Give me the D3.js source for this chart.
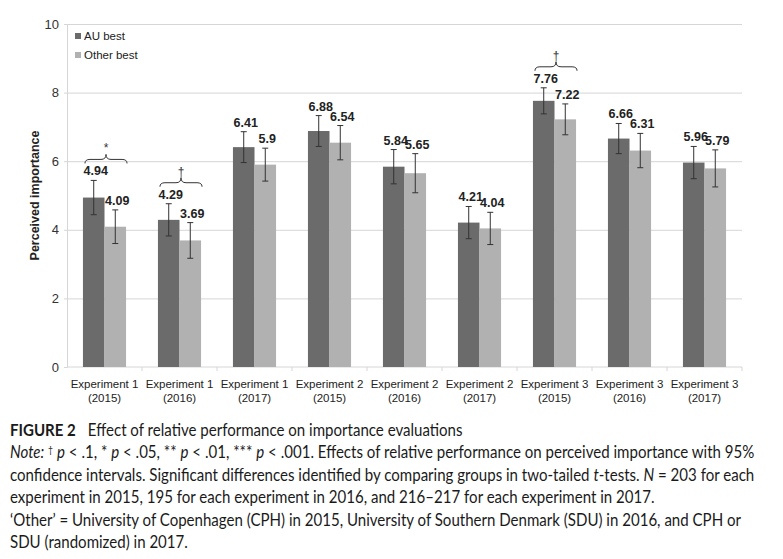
<!DOCTYPE html>
<html>
<head>
<meta charset="utf-8">
<script src="https://cdn.jsdelivr.net/npm/d3@7"></script>
<style>
  body { margin: 0; background: #fff; }
  svg text { font-family: "Liberation Sans", Arial, sans-serif; }
  svg text.cap { font-family: Lato, "Open Sans", sans-serif; }
</style>
</head>
<body>
<div id="chart"></div>
<script>
const categories = ["Experiment 1 (2015)", "Experiment 1 (2016)", "Experiment 1 (2017)",
    "Experiment 2 (2015)", "Experiment 2 (2016)", "Experiment 2 (2017)",
    "Experiment 3 (2015)", "Experiment 3 (2016)", "Experiment 3 (2017)"];
const seriesNames = ["AU best", "Other best"];
const auBest = [4.94, 4.29, 6.41, 6.88, 5.84, 4.21, 7.76, 6.66, 5.96];
const otherBest = [4.09, 3.69, 5.9, 6.54, 5.65, 4.04, 7.22, 6.31, 5.79];
// half width of the 95% CI
const auCI = [0.50, 0.47, 0.45, 0.45, 0.50, 0.47, 0.38, 0.44, 0.47];
const otherCI = [0.49, 0.52, 0.48, 0.50, 0.57, 0.47, 0.45, 0.50, 0.54];
const significance = ["*", "\u2020", "", "", "", "", "\u2020", "", ""];
const yTicks = [0, 2, 4, 6, 8, 10];

const colors = ["#6b6b6b", "#b1b1b1"];

// caption lines: [text, style]
const captionLines = [
    [["FIGURE 2", "b"], ["Effect of relative performance on importance evaluations", "gap"]],
    [["Note:", "i"], [" ", ""], ["\u2020", "sup"], [" ", ""], ["p", "i"], [" < .1, * ", ""], ["p", "i"], [" < .05, ** ", ""],
     ["p", "i"], [" < .01, *** ", ""], ["p", "i"], [" < .001. Effects of relative performance on perceived importance with 95%", ""]],
    [["confidence intervals. Significant differences identified by comparing groups in two-tailed ", ""], ["t", "i"],
     ["-tests. ", ""], ["N", "i"], [" = 203 for each", ""]],
    [["experiment in 2015, 195 for each experiment in 2016, and 216\u2013217 for each experiment in 2017.", ""]],
    [["\u2018Other\u2019 = University of Copenhagen (CPH) in 2015, University of Southern Denmark (SDU) in 2016, and CPH or", ""]],
    [["SDU (randomized) in 2017.", ""]]
];

const width = 783, height = 559;
const margin = { top: 24, right: 41, left: 67, bottom: 192 };
const innerW = width - margin.left - margin.right;
const innerH = height - margin.top - margin.bottom;

const svg = d3.select("#chart").append("svg")
    .attr("width", width)
    .attr("height", height);

const g = svg.append("g")
    .attr("transform", "translate(" + margin.left + "," + margin.top + ")");

const x0 = d3.scaleBand().domain(categories).range([0, innerW]).padding(0);
const x1 = d3.scaleBand().domain(seriesNames).range([0, x0.bandwidth()])
    .paddingInner(0).paddingOuter(0.74);
const y = d3.scaleLinear().domain([0, 10]).range([innerH, 0]);

// gridlines
g.append("g")
    .call(d3.axisLeft(y).tickValues(yTicks.filter(d => d > 0)).tickSize(-innerW).tickFormat(""))
    .call(s => s.select(".domain").remove())
    .selectAll("line").attr("stroke", "#d6d6d6");

// y axis
const yAxis = g.append("g")
    .call(d3.axisLeft(y).tickValues(yTicks).tickSize(3).tickPadding(5));
yAxis.select(".domain").attr("stroke", "#d6d6d6");
yAxis.selectAll("line").attr("stroke", "#d6d6d6");
yAxis.selectAll("text").attr("font-size", 13).attr("fill", "#333")
    .attr("font-family", "Liberation Sans, Arial, sans-serif");

// x axis: ticks sit between the groups
const xAxis = g.append("g").attr("transform", "translate(0," + innerH + ")");
xAxis.append("line").attr("x1", 0).attr("x2", innerW).attr("stroke", "#d6d6d6");
xAxis.selectAll(".sep").data(categories).join("line")
    .attr("class", "sep")
    .attr("x1", d => x0(d) + x0.bandwidth())
    .attr("x2", d => x0(d) + x0.bandwidth())
    .attr("y1", 0).attr("y2", 4)
    .attr("stroke", "#d6d6d6");
const xl = xAxis.selectAll(".xl").data(categories).join("text")
    .attr("class", "xl")
    .attr("text-anchor", "middle")
    .attr("font-size", 11.5)
    .attr("fill", "#222")
    .attr("transform", d => "translate(" + (x0(d) + x0.bandwidth() / 2) + ",0)");
xl.append("tspan").attr("x", 0).attr("y", 21).text(d => d.split(" (")[0]);
xl.append("tspan").attr("x", 0).attr("y", 35).text(d => "(" + d.split(" (")[1]);

// bars
const rows = categories.map((c, i) => ({
    cat: c,
    sig: significance[i],
    vals: [
        { s: seriesNames[0], v: auBest[i], ci: auCI[i] },
        { s: seriesNames[1], v: otherBest[i], ci: otherCI[i] }
    ]
}));

const groups = g.selectAll(".grp").data(rows).join("g")
    .attr("class", "grp")
    .attr("transform", d => "translate(" + x0(d.cat) + ",0)");

groups.selectAll("rect").data(d => d.vals).join("rect")
    .attr("x", d => x1(d.s))
    .attr("y", d => y(d.v))
    .attr("width", x1.bandwidth())
    .attr("height", d => y(0) - y(d.v))
    .attr("fill", (d, i) => colors[i]);

// error bars
const eb = groups.selectAll(".eb").data(d => d.vals).join("g")
    .attr("class", "eb")
    .attr("transform", d => "translate(" + (x1(d.s) + x1.bandwidth() / 2) + ",0)")
    .attr("stroke", "#333").attr("stroke-width", 1);
eb.append("line").attr("y1", d => y(d.v + d.ci)).attr("y2", d => y(d.v - d.ci));
eb.append("line").attr("x1", -3).attr("x2", 3).attr("y1", d => y(d.v + d.ci)).attr("y2", d => y(d.v + d.ci));
eb.append("line").attr("x1", -3).attr("x2", 3).attr("y1", d => y(d.v - d.ci)).attr("y2", d => y(d.v - d.ci));

// value labels
groups.selectAll(".vl").data(d => d.vals).join("text")
    .attr("class", "vl")
    .attr("x", d => x1(d.s) + x1.bandwidth() / 2 + 2)
    .attr("y", d => y(d.v + d.ci) - 5)
    .attr("text-anchor", "middle")
    .attr("font-size", 12.5)
    .attr("font-weight", "bold")
    .attr("fill", "#222")
    .text(d => d.v);

// braces with significance marks
const braces = groups.filter(d => d.sig !== "");
braces.each(function (d) {
    const top = d3.min(d.vals, v => y(v.v + v.ci)) - 5 - 12;
    const x0b = x1(seriesNames[0]) + 2, x1b = x1(seriesNames[1]) + x1.bandwidth() + 1;
    const mid = (x0b + x1b) / 2;
    const h = top - 4;
    const p = d3.path();
    p.moveTo(x0b, top);
    p.quadraticCurveTo(x0b, h, x0b + 5, h);
    p.lineTo(mid - 5, h);
    p.quadraticCurveTo(mid, h, mid, h - 5);
    p.quadraticCurveTo(mid, h, mid + 5, h);
    p.lineTo(x1b - 5, h);
    p.quadraticCurveTo(x1b, h, x1b, top);
    d3.select(this).append("path")
        .attr("d", p.toString())
        .attr("fill", "none")
        .attr("stroke", "#333")
        .attr("stroke-width", 1);
    d3.select(this).append("text")
        .attr("x", mid)
        .attr("y", h - 7)
        .attr("text-anchor", "middle")
        .attr("font-size", 12)
        .attr("fill", "#333")
        .text(d.sig);
});

// legend
const legend = g.append("g").attr("transform", "translate(8,9)");
seriesNames.forEach((s, i) => {
    const row = legend.append("g").attr("transform", "translate(0," + i * 19 + ")");
    row.append("rect").attr("width", 6).attr("height", 6).attr("fill", colors[i]);
    row.append("text").attr("x", 9).attr("y", 7).attr("font-size", 11.5).attr("fill", "#222").text(s);
});

// y title
svg.append("text")
    .attr("transform", "translate(39," + (margin.top + innerH / 2) + ") rotate(-90)")
    .attr("text-anchor", "middle")
    .attr("font-size", 12.5)
    .attr("font-weight", "bold")
    .attr("fill", "#222")
    .text("Perceived importance");

// caption
const cap = svg.append("g").attr("transform", "translate(10,436)");
const capTexts = captionLines.map((line, li) => {
    const t = cap.append("text")
        .attr("class", "cap")
        .attr("y", li * 22.4)
        .attr("font-size", 17.5)
        .attr("fill", "#1a1a1a");
    line.forEach(([txt, st]) => {
        const ts = t.append("tspan").text(txt);
        if (st === "b") ts.attr("font-weight", "bold");
        if (st === "i") ts.attr("font-style", "italic");
        if (st === "gap") ts.attr("dx", 14);
        if (st === "sup") ts.attr("font-size", 10).attr("baseline-shift", "super");
    });
    return t;
});
const longest = capTexts[1].node().getComputedTextLength();
const sx = 745 / longest;
cap.attr("transform", "translate(10,436) scale(" + sx + ",1)");
</script>
</body>
</html>
